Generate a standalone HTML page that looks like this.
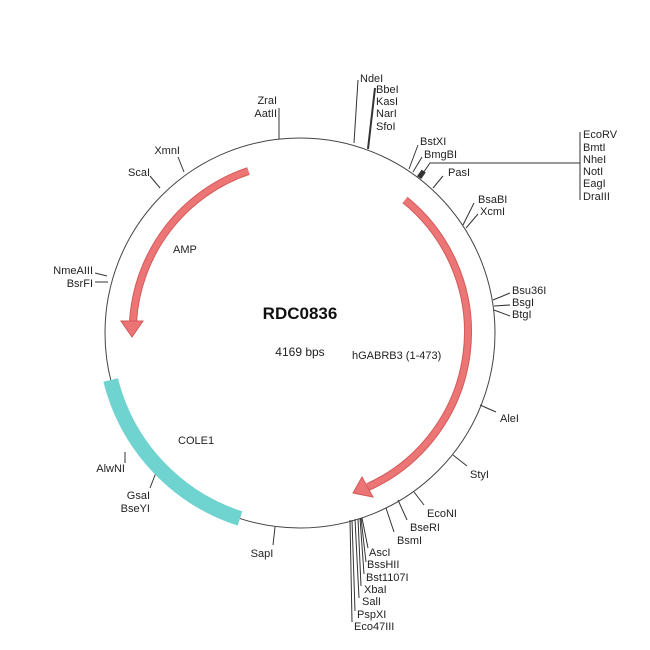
<!DOCTYPE html>
<html><head><meta charset="utf-8"><style>
html,body{margin:0;padding:0;background:#fff}
svg{display:block}
text{font-family:"Liberation Sans",Arial,sans-serif;font-size:11px;fill:#222}
</style></head><body>
<svg width="650" height="650" viewBox="0 0 650 650">
<g fill="none" stroke="#333" stroke-width="1">
<circle cx="300" cy="333" r="195" stroke="#444"/>
<path d="M279 139 L279 108"/>
<path d="M354 143 L358 80"/>
<path d="M368 149 L375 88" stroke-width="2"/>
<path d="M409 169 L418 145"/>
<path d="M413 172 L422 157"/>
<path d="M421 176 L430 163 L580 163 M580 132 L580 200"/>
<path d="M433 188 L443 176"/>
<path d="M463 225 L474 203 M466 228 L478 214"/>
<path d="M493 300 L510 293 M494 306 L510 305 M494 310 L510 316"/>
<path d="M480 405 L496 412"/>
<path d="M453 455 L467 466"/>
<path d="M414 492 L424 505"/>
<path d="M398 500 L407 520"/>
<path d="M386 508 L394 532"/>
<path d="M362 518 L368 548 M361 518 L366 562 M360 518 L364 574 M358 519 L361 586 M355 519 L359 598 M352 520 L355 611 M350 520 L352 622"/>
<path d="M275 527 L273 545"/>
<path d="M157 470 L150 488"/>
<path d="M125 452 L125 463"/>
<path d="M107 276 L95 273 M108 282 L95 282"/>
<path d="M160 188 L150 176"/>
<path d="M184 172 L178 157"/>
</g>
<rect x="419" y="170" width="5" height="8" fill="#333" transform="rotate(35 421 174)"/>
<g stroke="#d65858" stroke-width="1" fill="#eb7474">
<path d="M248.4 171 A170 170 0 0 0 133 322" fill="none" stroke="#d65858" stroke-width="8"/>
<path d="M248.4 171 A170 170 0 0 0 133 322" fill="none" stroke="#ec7575" stroke-width="6"/>
<polygon points="121,321 143,321 132,337"/>
<path d="M405 200 A170 170 0 0 1 368 487" fill="none" stroke="#d65858" stroke-width="8"/>
<path d="M405 200 A170 170 0 0 1 368 487" fill="none" stroke="#ec7575" stroke-width="6"/>
<polygon points="353,493 362,477 373,497"/>
</g>
<path d="M110.7 380 A195 195 0 0 0 240 518.5" fill="none" stroke="#6fd3d0" stroke-width="15"/>
<g>
<text x="277" y="104" text-anchor="end">ZraI</text>
<text x="277" y="117" text-anchor="end">AatII</text>
<text x="360" y="82">NdeI</text>
<text x="376" y="93">BbeI</text>
<text x="376" y="105">KasI</text>
<text x="376" y="117">NarI</text>
<text x="376" y="130">SfoI</text>
<text x="420" y="145">BstXI</text>
<text x="424" y="158">BmgBI</text>
<text x="583" y="138">EcoRV</text>
<text x="583" y="151">BmtI</text>
<text x="583" y="163">NheI</text>
<text x="583" y="175">NotI</text>
<text x="583" y="187">EagI</text>
<text x="583" y="200">DraIII</text>
<text x="448" y="176">PasI</text>
<text x="478" y="203">BsaBI</text>
<text x="480" y="215">XcmI</text>
<text x="512" y="294">Bsu36I</text>
<text x="512" y="306">BsgI</text>
<text x="512" y="318">BtgI</text>
<text x="500" y="422">AleI</text>
<text x="470" y="478">StyI</text>
<text x="427" y="517">EcoNI</text>
<text x="410" y="531">BseRI</text>
<text x="397" y="544">BsmI</text>
<text x="369" y="556">AscI</text>
<text x="367" y="568">BssHII</text>
<text x="366" y="581">Bst1107I</text>
<text x="364" y="593">XbaI</text>
<text x="362" y="605">SalI</text>
<text x="357" y="618">PspXI</text>
<text x="354" y="630">Eco47III</text>
<text x="262" y="557" text-anchor="middle">SapI</text>
<text x="150" y="499" text-anchor="end">GsaI</text>
<text x="150" y="512" text-anchor="end">BseYI</text>
<text x="125" y="472" text-anchor="end">AlwNI</text>
<text x="93" y="274" text-anchor="end">NmeAIII</text>
<text x="93" y="287" text-anchor="end">BsrFI</text>
<text x="150" y="176" text-anchor="end">ScaI</text>
<text x="180" y="154" text-anchor="end">XmnI</text>
<text x="173" y="253">AMP</text>
<text x="352" y="359">hGABRB3 (1-473)</text>
<text x="178" y="444">COLE1</text>
<text x="300" y="319" text-anchor="middle" style="font-size:17px;font-weight:bold;fill:#111">RDC0836</text>
<text x="300" y="356" text-anchor="middle" style="font-size:12px">4169 bps</text>
</g>
</svg>
</body></html>
